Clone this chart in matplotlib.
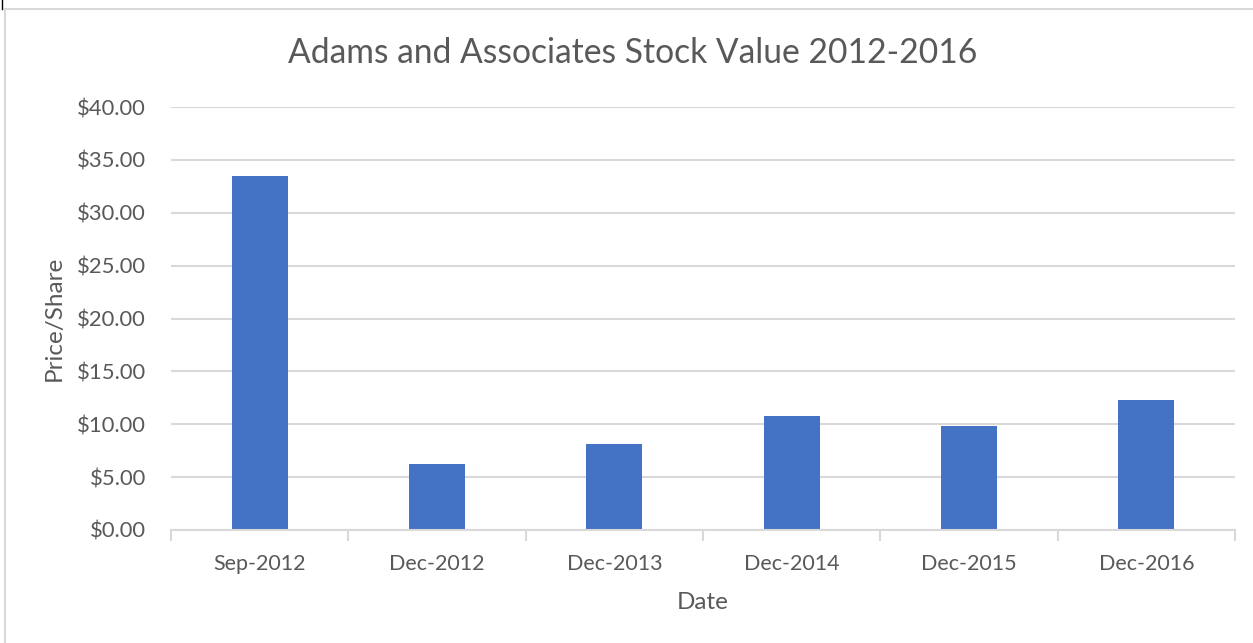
import matplotlib
matplotlib.use("Agg")
import matplotlib.pyplot as plt
from matplotlib.patches import Rectangle
from matplotlib.ticker import FuncFormatter, FixedLocator

categories = ["Sep-2012", "Dec-2012", "Dec-2013", "Dec-2014", "Dec-2015", "Dec-2016"]
prices = [33.45, 6.2, 8.15, 10.8, 9.85, 12.25]
y_ticks = [0, 5, 10, 15, 20, 25, 30, 35, 40]

plt.rcParams['font.family'] = ['Lato', 'DejaVu Sans']

fig = plt.figure(figsize=(12.53, 6.43), dpi=100)
W, H = 1253, 643

# chart frame
fig.patches.append(Rectangle((5 / W, -0.1), 1.2, 1 - 9 / H + 0.1, transform=fig.transFigure,
                             fill=False, edgecolor="#d9d9d9", linewidth=1.5))
fig.add_artist(plt.Line2D([2 / W, 2 / W], [1 - 9 / H, 1], transform=fig.transFigure,
                          color="black", linewidth=1))

ax = fig.add_axes([171 / W, 1 - 530 / H, (1235 - 171) / W, (530 - 107) / H])
x = list(range(len(categories)))
ax.bar(x, prices, width=0.316, color="#4472c4", zorder=3)

ax.set_xlim(-0.5, len(categories) - 0.5)
ax.set_ylim(0, 40)
ax.set_yticks(y_ticks)
ax.yaxis.set_major_formatter(FuncFormatter(lambda v, p: f"${v:,.2f}"))
ax.grid(axis="y", color="#d9d9d9", linewidth=1.5, zorder=0)
for s in ["top", "right", "left"]:
    ax.spines[s].set_visible(False)
ax.spines["bottom"].set_color("#d9d9d9")
ax.spines["bottom"].set_linewidth(1.5)
ax.spines["bottom"].set_zorder(4)

ax.set_xticks(x)
ax.set_xticklabels(categories)
ax.xaxis.set_minor_locator(FixedLocator([i - 0.5 for i in range(len(categories) + 1)]))
ax.tick_params(axis="x", which="major", length=0, pad=17.5, labelsize=15.5, labelcolor="#595959")
ax.tick_params(axis="x", which="minor", length=8, width=1.5, color="#d9d9d9")
ax.tick_params(axis="y", length=0, pad=18, labelsize=15.8, labelcolor="#595959")

ax.set_xlabel("Date", fontsize=17.5, color="#595959", labelpad=13)
ax.set_ylabel("Price/Share", fontsize=17.5, color="#595959", labelpad=9)

fig.text(633 / W, 1 - 53 / H, "Adams and Associates Stock Value 2012-2016",
         ha="center", va="center", fontsize=24.2, color="#595959")

fig.savefig("out.png", dpi=100)
